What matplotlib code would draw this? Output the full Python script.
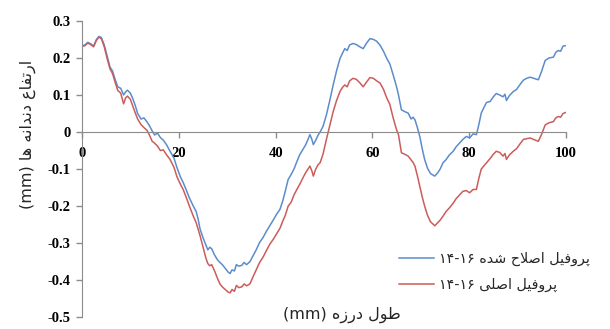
import matplotlib
matplotlib.use("Agg")
import matplotlib.pyplot as plt
from matplotlib.ticker import FixedLocator, FuncFormatter

# position along the joint (mm)
x_mm = [0, 0.6, 1.2, 1.8, 2.4, 3.0, 3.5, 4.0, 4.6, 5.2, 5.8, 6.3, 6.9, 7.4, 8.0, 8.6,
        9.0, 9.4, 10.0, 10.5, 11.0, 11.5, 12.2, 12.8, 13.4, 13.9, 14.5, 15.0, 15.6, 16.2,
        16.8, 17.5, 18.2, 19.0, 19.6, 20.3, 20.9, 21.5, 22.2, 23.0, 23.6, 24.0, 24.4, 25.0,
        25.6, 26.0, 26.4, 26.8, 27.4, 28.0, 28.5, 29.0, 29.6, 30.2, 30.6, 31.0, 31.5, 31.9,
        32.4, 33.0, 33.5, 34.0, 34.7, 35.3, 36.0, 36.7, 37.4, 38.1, 38.8, 39.5, 40.2, 40.9,
        41.5, 42.0, 42.6, 43.2, 43.8, 44.4, 45.0, 45.6, 46.2, 46.7, 47.1, 47.5, 47.8, 48.3,
        48.8, 49.2, 49.8, 50.5, 51.2, 51.9, 52.6, 53.3, 53.8, 54.3, 54.8, 55.3, 56.0, 56.7,
        57.4, 58.1, 58.8, 59.5, 60.2, 60.9, 61.6, 62.3, 63.0, 63.6, 64.3, 65.0, 65.4, 66.0,
        66.7, 67.4, 68.0, 68.4, 68.8, 69.3, 69.8, 70.3, 70.8, 71.4, 72.0, 72.9, 73.5, 74.0,
        74.6, 75.2, 75.9, 76.7, 77.3, 78.0, 78.7, 79.4, 80.1, 80.8, 81.5, 82.0, 82.5, 83.0,
        83.6, 84.3, 85.0, 85.6, 86.3, 87.0, 87.4, 87.7, 88.3, 89.1, 89.8, 90.5, 91.2, 91.9,
        92.6, 93.3, 94.3, 95.0, 95.7, 96.5, 97.4, 97.9, 98.4, 98.9, 99.4, 100]

# corrected profile (blue)
corrected = [0.232, 0.235, 0.242, 0.238, 0.232, 0.250, 0.258, 0.255, 0.235, 0.205, 0.175, 0.165,
             0.140, 0.122, 0.118, 0.100, 0.108, 0.113, 0.105, 0.090, 0.072, 0.050, 0.035, 0.038,
             0.028, 0.018, 0.003, -0.008, -0.003, -0.015, -0.022, -0.035, -0.052, -0.070, -0.095,
             -0.120, -0.136, -0.155, -0.178, -0.200, -0.215, -0.235, -0.262, -0.285, -0.305,
             -0.318, -0.311, -0.315, -0.332, -0.345, -0.352, -0.358, -0.368, -0.378, -0.382,
             -0.372, -0.375, -0.358, -0.362, -0.360, -0.352, -0.358, -0.350, -0.335, -0.318,
             -0.298, -0.285, -0.268, -0.253, -0.238, -0.222, -0.209, -0.185, -0.160, -0.128,
             -0.115, -0.100, -0.080, -0.061, -0.048, -0.035, -0.020, -0.007, -0.020, -0.034,
             -0.022, -0.008, 0.000, 0.015, 0.046, 0.085, 0.127, 0.165, 0.198, 0.212, 0.225,
             0.220, 0.235, 0.239, 0.236, 0.230, 0.225, 0.240, 0.252, 0.250, 0.245, 0.234, 0.218,
             0.198, 0.184, 0.154, 0.122, 0.100, 0.060, 0.055, 0.051, 0.035, 0.040, 0.033, 0.012,
             -0.012, -0.045, -0.074, -0.098, -0.112, -0.119, -0.110, -0.100, -0.083, -0.075,
             -0.062, -0.052, -0.040, -0.030, -0.020, -0.012, -0.016, -0.005, -0.007, 0.020,
             0.051, 0.065, 0.080, 0.082, 0.095, 0.104, 0.100, 0.095, 0.102, 0.085, 0.098, 0.109,
             0.115, 0.128, 0.140, 0.145, 0.148, 0.145, 0.141, 0.165, 0.193, 0.200, 0.202, 0.215,
             0.220, 0.218, 0.232, 0.233]

# original profile (red)
original = [0.231, 0.233, 0.240, 0.236, 0.230, 0.248, 0.256, 0.252, 0.230, 0.198, 0.170, 0.158,
            0.132, 0.112, 0.105, 0.076, 0.092, 0.097, 0.088, 0.070, 0.052, 0.035, 0.020, 0.012,
            0.005, -0.007, -0.025, -0.030, -0.038, -0.050, -0.048, -0.062, -0.074, -0.095,
            -0.120, -0.140, -0.155, -0.175, -0.200, -0.227, -0.245, -0.262, -0.280, -0.310,
            -0.340, -0.355, -0.361, -0.358, -0.375, -0.395, -0.410, -0.418, -0.425, -0.432,
            -0.434, -0.425, -0.430, -0.414, -0.420, -0.418, -0.410, -0.415, -0.410, -0.392,
            -0.372, -0.352, -0.338, -0.320, -0.303, -0.290, -0.275, -0.260, -0.240, -0.225,
            -0.200, -0.190, -0.170, -0.155, -0.141, -0.125, -0.110, -0.100, -0.092, -0.105,
            -0.119, -0.100, -0.088, -0.083, -0.060, -0.020, 0.018, 0.055, 0.085, 0.109, 0.120,
            0.127, 0.122, 0.138, 0.145, 0.142, 0.133, 0.122, 0.135, 0.147, 0.145, 0.138, 0.132,
            0.115, 0.091, 0.075, 0.038, 0.006, -0.007, -0.056, -0.060, -0.065, -0.075, -0.082,
            -0.092, -0.118, -0.146, -0.175, -0.200, -0.225, -0.242, -0.253, -0.245, -0.238,
            -0.227, -0.215, -0.205, -0.192, -0.180, -0.170, -0.160, -0.158, -0.164, -0.155,
            -0.155, -0.125, -0.100, -0.092, -0.083, -0.072, -0.060, -0.052, -0.055, -0.065,
            -0.058, -0.074, -0.062, -0.052, -0.045, -0.032, -0.020, -0.018, -0.016, -0.020,
            -0.025, -0.005, 0.019, 0.025, 0.028, 0.038, 0.042, 0.040, 0.050, 0.053]

x_ticks = [0, 20, 40, 60, 80, 100]
y_ticks = [0.3, 0.2, 0.1, 0, -0.1, -0.2, -0.3, -0.4, -0.5]

label_corrected = "پروفیل اصلاح شده ۱۶-۱۴"
label_original = "پروفیل اصلی ۱۶-۱۴"
x_title = "طول درزه (mm)"
y_title = "ارتفاع دندانه ها (mm)"

# matplotlib has no arabic shaping, so map letters to presentation forms by hand
DUAL = {
    "پ": "\uFB56\uFB57\uFB58\uFB59", "ف": "\uFED1\uFED2\uFED3\uFED4",
    "ی": "\uFBFC\uFBFD\uFBFE\uFBFF", "ل": "\uFEDD\uFEDE\uFEDF\uFEE0",
    "ص": "\uFEB9\uFEBA\uFEBB\uFEBC", "ح": "\uFEA1\uFEA2\uFEA3\uFEA4",
    "ش": "\uFEB5\uFEB6\uFEB7\uFEB8", "ه": "\uFEE9\uFEEA\uFEEB\uFEEC",
    "ط": "\uFEC1\uFEC2\uFEC3\uFEC4", "ت": "\uFE95\uFE96\uFE97\uFE98",
    "ع": "\uFEC9\uFECA\uFECB\uFECC", "ن": "\uFEE5\uFEE6\uFEE7\uFEE8",
}
RIGHT = {"ا": "\uFE8D\uFE8E", "د": "\uFEA9\uFEAA", "ر": "\uFEAD\uFEAE",
         "ز": "\uFEAF\uFEB0", "و": "\uFEED\uFEEE"}


def shape_word(w):
    out = []
    i = 0
    while i < len(w):
        c = w[i]
        prev = i > 0 and w[i - 1] in DUAL
        if c == "ل" and i + 1 < len(w) and w[i + 1] == "ا":
            out.append("\uFEFC" if prev else "\uFEFB")
            i += 2
            continue
        if c in DUAL:
            nxt = i + 1 < len(w) and (w[i + 1] in DUAL or w[i + 1] in RIGHT)
            f = DUAL[c]
            out.append(f[3] if prev and nxt else f[1] if prev else f[2] if nxt else f[0])
        elif c in RIGHT:
            out.append(RIGHT[c][1] if prev else RIGHT[c][0])
        else:
            out.append(c)
        i += 1
    return "".join(reversed(out))


def rtl(text):
    vis = []
    for tok in text.split(" "):
        if any(ch in DUAL or ch in RIGHT for ch in tok):
            vis.append(shape_word(tok))
        elif "-" in tok and tok[0] in "۰۱۲۳۴۵۶۷۸۹":
            vis.append("-".join(reversed(tok.split("-"))))
        else:
            vis.append(tok)
    return " ".join(reversed(vis))


fig = plt.figure(figsize=(6.1, 3.29), dpi=100)
ax = fig.add_axes([0.1344, 0.0356, 0.7934, 0.901])

ax.plot(x_mm, corrected, color="#5b8ccc", lw=1.1, label=rtl(label_corrected))
ax.plot(x_mm, original, color="#cc5c5a", lw=1.1, label=rtl(label_original))

ax.set_xlim(0, 100)
ax.set_ylim(-0.5, 0.3)

for s in ["top", "right"]:
    ax.spines[s].set_visible(False)
ax.spines["bottom"].set_position(("data", 0))
ax.spines["bottom"].set_color("#8c8c8c")
ax.spines["left"].set_color("#8c8c8c")

ax.xaxis.set_major_locator(FixedLocator(x_ticks))
ax.yaxis.set_major_locator(FixedLocator(y_ticks))
ax.yaxis.set_major_formatter(FuncFormatter(lambda v, p: "0" if abs(v) < 1e-9 else ("%.1f" % v)))
ax.tick_params(axis="both", colors="#8c8c8c", length=4, width=1, labelcolor="black")
ax.tick_params(axis="x", pad=7)
ax.tick_params(axis="y", pad=4)
for lbl in ax.get_xticklabels() + ax.get_yticklabels():
    lbl.set_fontfamily("Liberation Serif")
    lbl.set_fontweight("bold")
    lbl.set_fontsize(10.5)

fig.text(0.046, 0.59, rtl(y_title), rotation=90, ha="center", va="center",
         fontsize=11.5, color="#262626", family=["DejaVu Sans"])
fig.text(0.56, 0.042, rtl(x_title), ha="center", va="center",
         fontsize=11.5, color="#262626", family=["DejaVu Sans"])

leg = ax.legend(loc="lower left", bbox_to_anchor=(0.645, 0.095), bbox_transform=fig.transFigure,
                frameon=False, fontsize=10.3, handlelength=2.4, handletextpad=0.4,
                labelspacing=0.8, borderaxespad=0)
for t in leg.get_texts():
    t.set_color("#262626")

fig.savefig("out.png", dpi=100)
